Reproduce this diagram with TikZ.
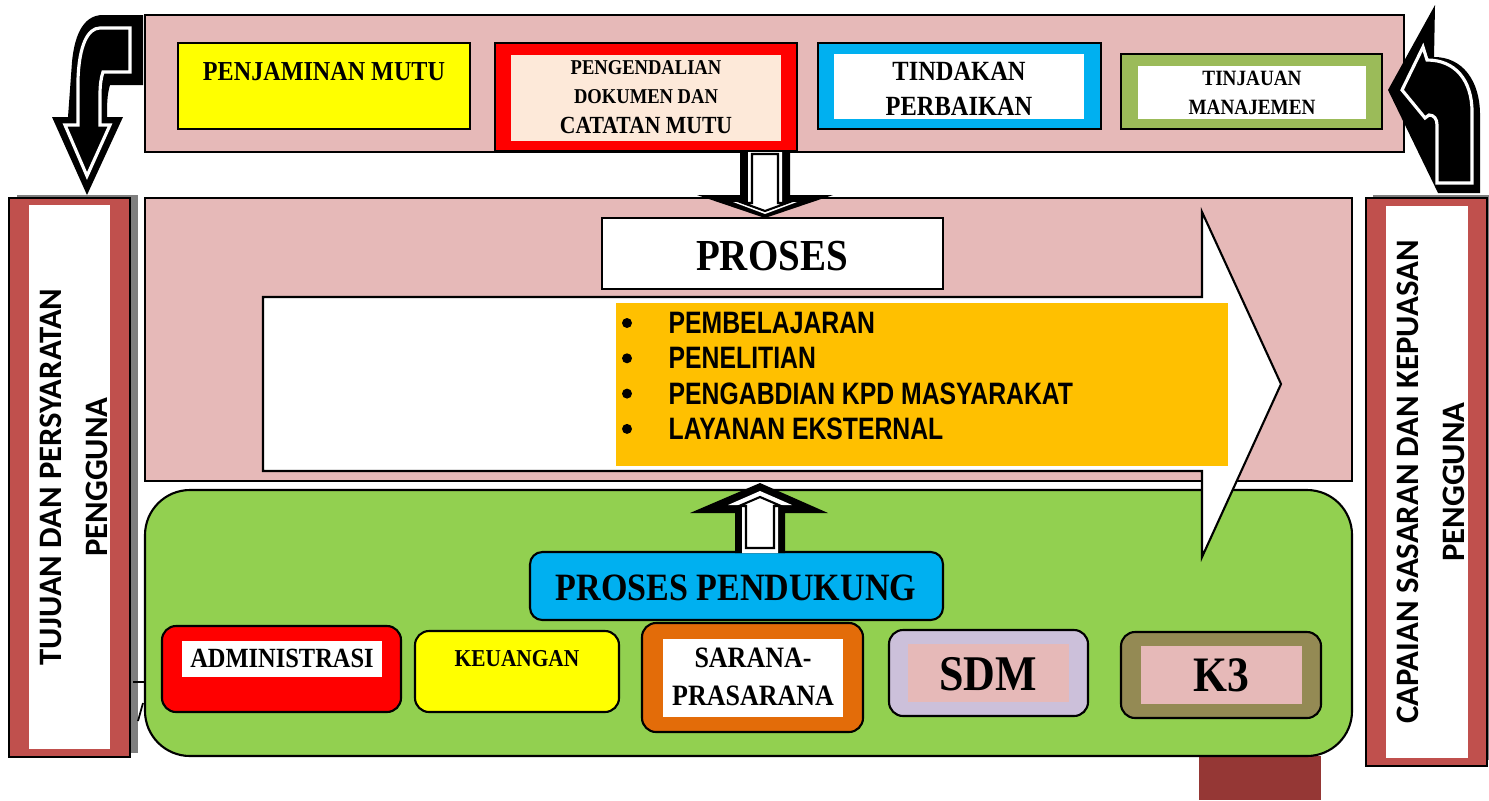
\documentclass[tikz,border=0pt]{standalone}
\usepackage{fontspec}
\newfontfamily\boxfont{Liberation Serif}[FakeStretch=0.88]
\newfontfamily\listfont{Liberation Sans}[FakeStretch=0.8]
\newfontfamily\barfont{Carlito}
\newcommand\SetSize[2]{\fontsize{#1}{#2}\selectfont}
\definecolor{PinkBg}{HTML}{E6B9B8}
\definecolor{BarRed}{HTML}{C0504D}
\definecolor{LeafGreen}{HTML}{92D050}
\definecolor{SkyBlue}{HTML}{00B0F0}
\definecolor{OliveGreen}{HTML}{9BBB59}
\definecolor{Amber}{HTML}{FFC000}
\definecolor{Rust}{HTML}{E36C09}
\definecolor{Lilac}{HTML}{CCC0DA}
\definecolor{Khaki}{HTML}{948A54}
\definecolor{Maroon}{HTML}{953735}
\definecolor{Peach}{HTML}{FDE9D9}
\definecolor{ShadowGray}{HTML}{7F7F7F}
\definecolor{PureYellow}{HTML}{FFFF00}
\definecolor{PureRed}{HTML}{FF0000}
\tikzset{
    boxframe/.style={draw=black, line width=0.6pt},
    roundbox/.style={boxframe, rounded corners=4pt},
    boxtext/.style={font=\boxfont\bfseries, align=center, inner sep=0pt},
    bartext/.style={font=\barfont\bfseries\SetSize{9.3}{13}, align=center, rotate=90, inner sep=0pt},
    listtext/.style={font=\listfont\bfseries\SetSize{8.8}{10}, inner sep=0pt, anchor=west},
    inlay/.style={white, line width=0.9pt}
}
\newcommand\BlockArrow[3]{%
    \fill[black] #1;
    \fill[white] #2;
    \draw[black, line width=0.6pt, fill=white] #3;
}

\begin{document}
\begin{tikzpicture}[x=0.01cm, y=-0.01cm]
    \useasboundingbox (0,0) rectangle (1489,800);
    \draw[boxframe, fill=PinkBg] (145,15) rectangle (1404,152);
    \draw[boxframe, fill=PureYellow] (178,43) rectangle (470,129);
    \node[boxtext, font={\boxfont\bfseries\SetSize{7.8}{9}}] (penjaminan) at (324,72) {PENJAMINAN MUTU};
    \draw[boxframe, fill=PureRed] (495,43) rectangle (797,151);
    \fill[Peach] (511,55) rectangle (781,141);
    \node[boxtext, font={\boxfont\bfseries\SetSize{6}{8.4}}] (pengendalian) at (646,97) {PENGENDALIAN\\DOKUMEN DAN\\{\SetSize{7}{8.4}CATATAN MUTU}};
    \draw[boxframe, fill=SkyBlue] (818,43) rectangle (1101,129);
    \fill[white] (834,54) rectangle (1084,119);
    \node[boxtext, font={\boxfont\bfseries\SetSize{7.9}{10}}] (tindakan) at (959,89) {TINDAKAN\\PERBAIKAN};
    \draw[boxframe, fill=OliveGreen] (1121,54) rectangle (1382,129);
    \fill[white] (1138,66) rectangle (1366,119);
    \node[boxtext, font={\boxfont\bfseries\SetSize{6.2}{8.2}}] (tinjauan) at (1252,93) {TINJAUAN\\MANAJEMEN};

    \fill[black] (103,15) -- (143,15) -- (143,85) -- (110,85) .. controls (107,95) and (107,105) .. (107,117) -- (123,117) -- (87,195) -- (52,117) -- (68,117) -- (72,62) .. controls (75,30) and (86,15) .. (103,15) -- cycle;
    \draw[inlay] (130,28) -- (130,72) -- (103,72) .. controls (101,78) and (100,85) .. (100,95) -- (100,125) -- (110,125) -- (87,176) -- (65,125) -- (78,125) -- (78,80) .. controls (79,45) and (88,28) .. (100,28) -- cycle;
    \fill[black] (1388,90) -- (1435,5) -- (1434,57) .. controls (1462,57) and (1480,80) .. (1480,115) -- (1480,193) -- (1438,193) -- cycle;
    \draw[inlay] (1402,90) -- (1423,47) -- (1427,60) .. controls (1455,60) and (1472,80) .. (1472,112) -- (1472,183) -- (1437,183) -- (1437,125) .. controls (1437,119) and (1434,115) .. (1429,115) -- (1425,118) -- cycle;

    \fill[ShadowGray] (17,195) rectangle (138,753);
    \draw[boxframe, fill=BarRed] (9,198) rectangle (130,757);
    \fill[white] (29,205) rectangle (110,749);
    \node[bartext] (tujuan) at (74,477) {TUJUAN DAN PERSYARATAN\\PENGGUNA};
    \fill[ShadowGray] (1373,195) rectangle (1489,760);
    \draw[boxframe, fill=BarRed] (1366,198) rectangle (1487,766);
    \fill[white] (1386,206) rectangle (1468,758);
    \node[bartext] (capaian) at (1431,482) {CAPAIAN SASARAN DAN KEPUASAN\\PENGGUNA};
    \draw[line width=0.5pt] (133,682) -- (145,682);
    \draw[line width=0.5pt] (138,721) -- (143,703);

    \draw[boxframe, fill=PinkBg] (145,198) rectangle (1352,481);
    \fill[Maroon] (1199,756) rectangle (1321,800);
    \draw[boxframe, fill=LeafGreen, rounded corners=12.8pt] (145,490) rectangle (1352,756);
    \draw[boxframe, fill=white] (263,297) -- (1202,297) -- (1202,212) -- (1281,384) -- (1202,557) -- (1202,471) -- (263,471) -- cycle;
    \fill[Amber] (616,303) rectangle (1228,466);
    \foreach \entry [count=\i] in {PEMBELAJARAN, PENELITIAN, PENGABDIAN KPD MASYARAKAT, LAYANAN EKSTERNAL} {
        \fill (627,{323+35.3*(\i-1)}) circle (5);
        \node[listtext] (kegiatan\i) at (668,{323+35.3*(\i-1)}) {\entry};
    }
    \draw[boxframe, fill=white] (602,218) rectangle (943,289);
    \node[boxtext, font={\boxfont\bfseries\SetSize{12.6}{14}}] (proses) at (772,256) {PROSES};

    \draw[roundbox, fill=SkyBlue, rounded corners=3.5pt] (530,552) rectangle (943,620);
    \node[boxtext, font={\boxfont\bfseries\SetSize{11}{13}}] (pendukung) at (736,588) {PROSES PENDUKUNG};
    \draw[roundbox, fill=PureRed] (162,626) rectangle (401,712);
    \fill[white] (182,641) rectangle (382,677);
    \node[boxtext, font={\boxfont\bfseries\SetSize{7.9}{9}}] (administrasi) at (282,658) {ADMINISTRASI};
    \draw[roundbox, fill=PureYellow] (415,631) rectangle (619,712);
    \node[boxtext, font={\boxfont\bfseries\SetSize{6.9}{8}}] (keuangan) at (517,659) {KEUANGAN};
    \draw[roundbox, fill=Rust] (642,623) rectangle (863,732);
    \fill[white] (663,639) rectangle (843,717);
    \node[boxtext, font={\boxfont\bfseries\SetSize{8.4}{10.8}}] (sarana) at (753,677) {SARANA-\\PRASARANA};
    \draw[roundbox, fill=Lilac] (889,630) rectangle (1088,716);
    \fill[PinkBg] (908,644) rectangle (1069,702);
    \node[boxtext, font={\boxfont\bfseries\SetSize{14.2}{16}}] (sdm) at (988,674) {SDM};
    \draw[roundbox, fill=Khaki] (1121,632) rectangle (1321,718);
    \fill[PinkBg] (1141,646) rectangle (1302,704);
    \node[boxtext, font={\boxfont\bfseries\SetSize{14.1}{16}}] (kkk) at (1221,675) {K3};

    \BlockArrow{(740,152) -- (790,152) -- (790,195) -- (833,195) -- (765,218) -- (697,195) -- (740,195) -- cycle}
        {(748,152) -- (782,152) -- (782,202) -- (797,202) -- (765,214) -- (733,202) -- (748,202) -- cycle}
        {(752,154) -- (778,154) -- (778,203) -- (787,203) -- (765,211) -- (743,203) -- (752,203) -- cycle}
    \BlockArrow{(760,483) -- (828,513) -- (785,513) -- (785,553) -- (735,553) -- (735,513) -- (690,513) -- cycle}
        {(760,491) -- (792,505) -- (778,505) -- (778,553) -- (742,553) -- (742,505) -- (728,505) -- cycle}
        {(760,497) -- (781,506) -- (774,506) -- (774,548) -- (746,548) -- (746,506) -- (739,506) -- cycle}
\end{tikzpicture}
\end{document}
